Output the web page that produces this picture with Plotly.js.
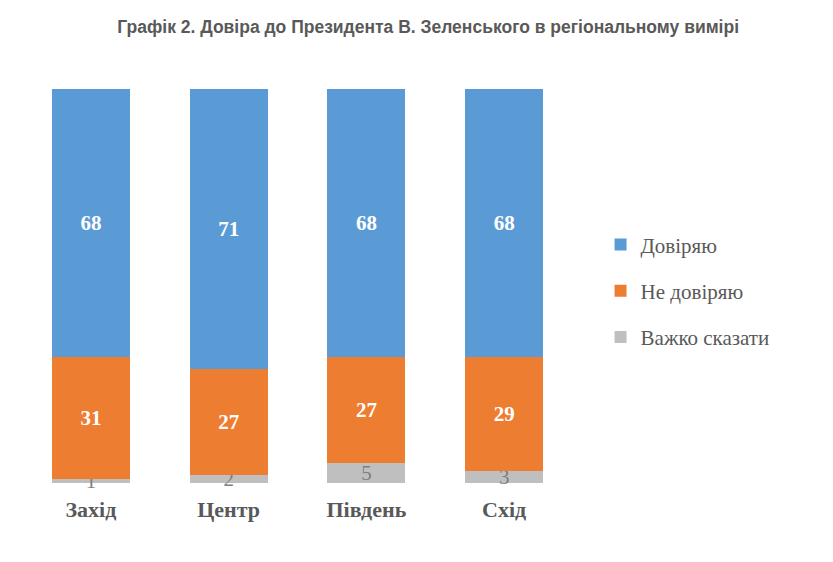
<!DOCTYPE html>
<html>
<head>
<meta charset="utf-8">
<script src="https://cdn.plot.ly/plotly-3.0.1.min.js"></script>
<style>
  html, body { margin: 0; padding: 0; background: #fff; }
  #chart { width: 833px; height: 562px; }
</style>
</head>
<body>
<div id="chart"></div>
<script>
// Дані: довіра до Президента за регіонами, %
var regions = ["Захід", "Центр", "Південь", "Схід"];
var trust = [68, 71, 68, 68];
var distrust = [31, 27, 27, 29];
var hardToSay = [1, 2, 5, 3];

var seriesNames = ["Довіряю", "Не довіряю", "Важко сказати"];
var colors = { trust: "#5B9BD5", distrust: "#ED7D31", hard: "#BFBFBF" };
var textGrey = "#595959";
var serif = "'Liberation Serif', 'Times New Roman', serif";

function barTrace(name, values, color, rank, labelColor, bold) {
  return {
    type: "bar",
    name: name,
    legendgroup: "g" + rank,
    legendrank: rank,
    x: regions,
    y: values,
    marker: { color: color, line: { width: 0 } },
    text: values.map(String),
    textposition: "inside",
    insidetextanchor: "middle",
    textangle: 0,
    constraintext: "none",
    textfont: { family: serif, size: 21, color: labelColor, weight: bold ? "bold" : "normal" },
    hoverinfo: "skip",
    cliponaxis: false,
  };
}

// перший трейс лежить унизу стосу
var traces = [
  barTrace(seriesNames[2], hardToSay, colors.hard, 3, "#7F7F7F", false),
  barTrace(seriesNames[1], distrust, colors.distrust, 2, "#FFFFFF", true),
  barTrace(seriesNames[0], trust, colors.trust, 1, "#FFFFFF", true),
];

var layout = {
  width: 833,
  height: 562,
  margin: { l: 22, r: 260, t: 89, b: 79 },
  paper_bgcolor: "#FFFFFF",
  plot_bgcolor: "#FFFFFF",
  barmode: "stack",
  bargap: 0.434,
  title: {
    text: "<b>Графік 2. Довіра до Президента В. Зеленського в регіональному вимірі</b>",
    font: { family: "'Liberation Sans', Arial, sans-serif", size: 17.5, color: textGrey },
    x: 0.514,
    xanchor: "center",
    y: 0.952,
    yanchor: "middle",
  },
  xaxis: {
    showgrid: false,
    showline: false,
    zeroline: false,
    ticks: "",
    tickfont: { family: serif, size: 22, color: textGrey, weight: "bold" },
    ticklabelstandoff: 11,
  },
  yaxis: {
    range: [0, 100],
    visible: false,
    showgrid: false,
    zeroline: false,
  },
  showlegend: true,
  legend: {
    x: 1.05,
    xanchor: "left",
    y: 0.488,
    yanchor: "middle",
    traceorder: "grouped",
    tracegroupgap: 16,
    font: { family: serif, size: 21, color: textGrey },
    itemwidth: 30,
    bgcolor: "rgba(0,0,0,0)",
  },
};

Plotly.newPlot("chart", traces, layout, { displayModeBar: false, staticPlot: true });
</script>
</body>
</html>
